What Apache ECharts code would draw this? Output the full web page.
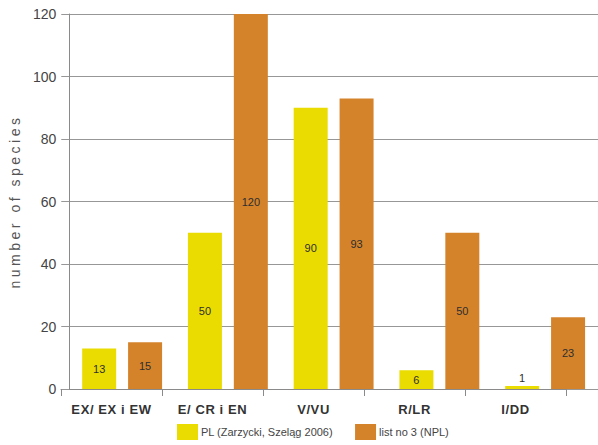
<!DOCTYPE html>
<html>
<head>
<meta charset="utf-8">
<script src="https://cdn.jsdelivr.net/npm/echarts@6/dist/echarts.min.js"></script>
<style>
  html, body { margin: 0; padding: 0; background: #fff; }
  #chart { width: 598px; height: 445px; }
  /* spaced-out lettering for the vertical axis title */
  #chart text[style*="Liberation Sans"] { letter-spacing: 3.5px; }
  /* slightly tracked category labels */
  #chart text[style*="Helvetica"] { letter-spacing: 0.6px; }
</style>
</head>
<body>
<div id="chart"></div>
<script>
// Threatened species by category: Polish red list vs. list no 3 (NPL)
const categories = ['EX/ EX i EW', 'E/ CR i EN', 'V/VU', 'R/LR', 'I/DD'];
const plValues = [13, 50, 90, 6, 1];
const nplValues = [15, 120, 93, 50, 23];
const seriesNames = ['PL (Zarzycki, Szeląg 2006)', 'list no 3 (NPL)'];
const yTicks = { min: 0, max: 120, step: 20 };

const colors = ['#EADC00', '#D5832B'];
const textColor = '#2e2e2e';
const gridColor = '#979797';

// very small bars get their value printed above instead of inside
const toData = arr => arr.map(v => v < 3
  ? { value: v, label: { position: 'top', distance: 2 } }
  : { value: v });

const chart = echarts.init(document.getElementById('chart'), null, { renderer: 'svg' });

chart.setOption({
  animation: false,
  backgroundColor: '#fff',
  textStyle: { fontFamily: 'Arial' },
  grid: [
    { left: 61, top: 14, width: 540, height: 375 },   // bars
    { left: 61, top: 14, width: 505, height: 375 }    // category labels
  ],
  legend: {
    left: 177, top: 424, padding: 0,
    itemWidth: 21, itemHeight: 16, itemGap: 22,
    icon: 'rect',
    textStyle: { fontSize: 11, color: '#444', fontFamily: 'Arial', padding: [0, 0, 0, -2] },
    data: seriesNames
  },
  xAxis: [
    { type: 'category', gridIndex: 0, data: categories, show: false },
    {
      type: 'category', gridIndex: 1, data: categories,
      axisLine: { lineStyle: { color: '#8a8a8a' } },
      axisTick: { show: true, length: 7, lineStyle: { color: '#8a8a8a' } },
      axisLabel: { fontSize: 13, fontWeight: 'bold', color: '#333', margin: 14, fontFamily: 'Helvetica' }
    }
  ],
  yAxis: [
    {
      type: 'value', gridIndex: 0,
      min: yTicks.min, max: yTicks.max, interval: yTicks.step,
      name: 'number of species',
      nameLocation: 'middle', nameRotate: 90, nameGap: 42,
      nameTextStyle: { fontSize: 14, color: '#555', fontFamily: 'Liberation Sans' },
      axisLine: { show: true, lineStyle: { color: '#8a8a8a' } },
      axisTick: { show: true, length: 8, lineStyle: { color: gridColor } },
      axisLabel: { fontSize: 14, color: '#444', margin: 13, fontFamily: 'Arial' },
      splitLine: { lineStyle: { color: gridColor, width: 1 } }
    },
    { type: 'value', gridIndex: 1, min: yTicks.min, max: yTicks.max, show: false }
  ],
  series: [
    {
      name: seriesNames[0], type: 'bar', xAxisIndex: 0, yAxisIndex: 0,
      data: toData(plValues),
      barWidth: 34, barGap: '35%',
      itemStyle: { color: colors[0] },
      label: { show: true, position: 'inside', fontSize: 11, color: textColor, fontFamily: 'Arial' }
    },
    {
      name: seriesNames[1], type: 'bar', xAxisIndex: 0, yAxisIndex: 0,
      data: toData(nplValues),
      barWidth: 34, barGap: '35%',
      itemStyle: { color: colors[1] },
      label: { show: true, position: 'inside', fontSize: 11, color: textColor, fontFamily: 'Arial' }
    }
  ]
});
</script>
</body>
</html>
